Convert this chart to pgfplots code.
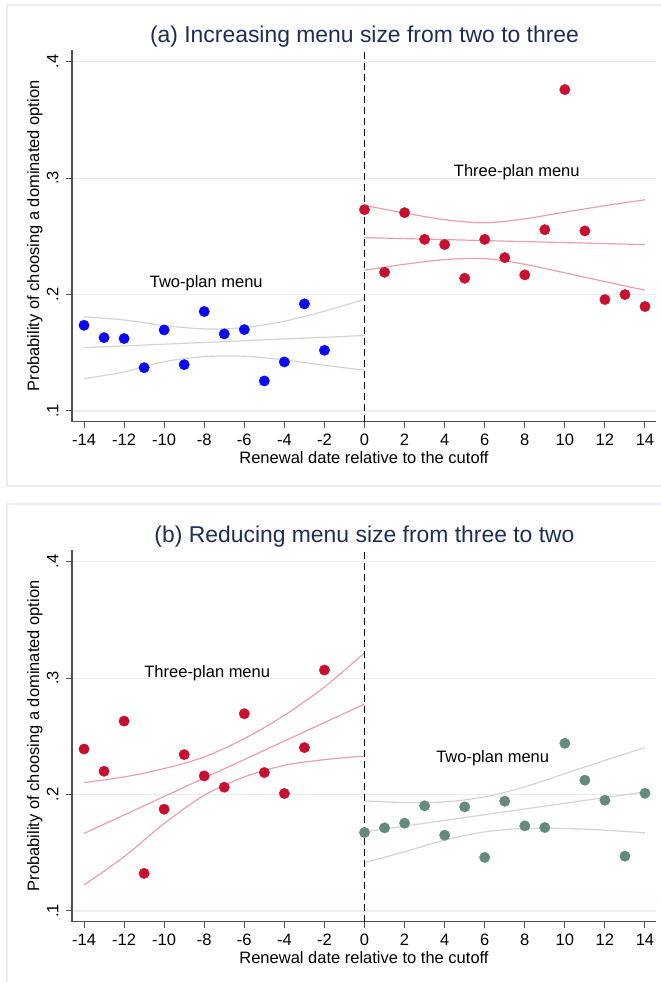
\documentclass[border=0pt]{standalone}
\usepackage{pgfplots}
\pgfplotsset{compat=1.18}
\usepackage{fontspec}
\setmainfont{Liberation Sans}
\definecolor{dotblue}{RGB}{10,10,245}
\definecolor{dotred}{RGB}{200,16,46}
\definecolor{dotgreen}{RGB}{102,138,122}
\definecolor{cipink}{RGB}{234,160,172}
\definecolor{cigray}{RGB}{212,212,212}
\definecolor{gridc}{RGB}{232,238,243}
\definecolor{framec}{RGB}{232,238,244}
\definecolor{axisc}{RGB}{80,80,80}
\definecolor{titlec}{RGB}{28,46,86}
\newcommand{\lbl}{\fontsize{16.5bp}{19bp}\selectfont}
\newcommand{\ttl}{\fontsize{22.9bp}{26bp}\selectfont}
\pgfplotsset{
  panel/.style={
    scale only axis, width=584bp, height=371.7bp,
    anchor=south west,
    xmin=-14.6, xmax=14.55, ymin=0.0908, ymax=0.41,
    axis lines=left,
    axis line style={-, draw=axisc, line width=1.1bp},
    tick align=outside, major tick length=6bp,
    tick style={draw=axisc, line width=1bp},
    xtick={-14,-12,...,14},
    xticklabels={-14,-12,-10,-8,-6,-4,-2,0,2,4,6,8,10,12,14},
    ytick={0.1,0.2,0.3,0.4},
    yticklabels={.1,.2,.3,.4},
    ymajorgrids, grid style={draw=gridc, line width=1.1bp},
    xticklabel style={font=\lbl, yshift=-3bp},
    yticklabel style={font=\lbl, rotate=90, anchor=south, yshift=4bp},
    xlabel={Renewal date relative to the cutoff},
    ylabel={Probability of choosing a dominated option},
    xlabel style={font=\lbl, at={(rel axis cs:0.5,0)}, anchor=center, yshift=-36.3bp},
    ylabel style={font=\lbl, at={(axis description cs:-0.0634,0.5)}, anchor=center},
    clip=false,
  },
  ci/.style={smooth, no markers, line width=1.2bp},
  dots/.style={only marks, mark=*, mark size=5.2bp},
}
\begin{document}
\begin{tikzpicture}
\path[use as bounding box] (0,0) rectangle (661bp,-982bp);
\draw[framec, line width=1.6bp] (7bp,-5bp) rectangle (690bp,-486bp);
\draw[framec, line width=1.6bp] (7bp,-504bp) rectangle (690bp,-1000bp);
\node[font=\ttl, text=titlec] at (364.5bp,-37bp) {(a) Increasing menu size from two to three};
\node[font=\ttl, text=titlec] at (364.5bp,-537bp) {(b) Reducing menu size from three to two};

% ---------- Panel (a) ----------
\begin{axis}[panel, at={(72bp,-421.7bp)}]
\addplot[ci, cigray] coordinates {(-14,0.1808) (-12,0.1782) (-10,0.1734) (-8,0.1705) (-6,0.1716) (-4,0.1771) (-2,0.1857) (0,0.1960)};
\addplot[ci, cigray] coordinates {(-14,0.1544) (0,0.1648)};
\addplot[ci, cigray] coordinates {(-14,0.1278) (-12,0.1335) (-10,0.1424) (-8,0.1467) (-6,0.1470) (-4,0.1438) (-2,0.1393) (0,0.1350)};
\addplot[ci, cipink] coordinates {(0,0.2766) (2,0.2700) (4,0.2643) (6,0.2616) (8,0.2650) (10,0.2708) (12,0.2763) (14,0.2814)};
\addplot[ci, cipink] coordinates {(0,0.2489) (14,0.2429)};
\addplot[ci, cipink] coordinates {(0,0.2209) (2,0.2260) (4,0.2300) (6,0.2308) (8,0.2260) (10,0.2186) (12,0.2111) (14,0.2037)};
\addplot[black, line width=1.1bp, dash pattern=on 7bp off 4bp] coordinates {(0,0.0908) (0,0.41)};
\addplot[dots, dotblue] coordinates {(-14,0.1736) (-13,0.1630) (-12,0.1622) (-11,0.1372) (-10,0.1696) (-9,0.1398) (-8,0.1854) (-7,0.1662) (-6,0.1699) (-5,0.1258) (-4,0.1421) (-3,0.1920) (-2,0.1521)};
\addplot[dots, dotred] coordinates {(0,0.2729) (1,0.2191) (2,0.2703) (3,0.2474) (4,0.2429) (5,0.2140) (6,0.2474) (7,0.2317) (8,0.2169) (9,0.2557) (10,0.3760) (11,0.2546) (12,0.1957) (13,0.2000) (14,0.1897)};
\node[font=\lbl] at (axis cs:-7.9,0.2098) {Two-plan menu};
\node[font=\lbl] at (axis cs:7.6,0.3051) {Three-plan menu};
\end{axis}

% ---------- Panel (b) ----------
\begin{axis}[panel, at={(72bp,-921.7bp)}]
\addplot[ci, cipink] coordinates {(-14,0.2103) (-12,0.2151) (-10,0.2223) (-8,0.2323) (-6,0.2480) (-4,0.2680) (-2,0.2923) (0,0.3217)};
\addplot[ci, cipink] coordinates {(-14,0.1666) (0,0.2777)};
\addplot[ci, cipink] coordinates {(-14,0.1223) (-12,0.1466) (-10,0.1751) (-8,0.1994) (-6,0.2151) (-4,0.2251) (-2,0.2300) (0,0.2331)};
\addplot[ci, cigray] coordinates {(0,0.1946) (2,0.1931) (4,0.1937) (6,0.1980) (8,0.2066) (10,0.2180) (12,0.2294) (14,0.2403)};
\addplot[ci, cigray] coordinates {(0,0.1680) (14,0.2023)};
\addplot[ci, cigray] coordinates {(0,0.1414) (2,0.1509) (4,0.1609) (6,0.1680) (8,0.1709) (10,0.1709) (12,0.1694) (14,0.1671)};
\addplot[black, line width=1.1bp, dash pattern=on 7bp off 4bp] coordinates {(0,0.0908) (0,0.41)};
\addplot[dots, dotred] coordinates {(-14,0.2391) (-13,0.2200) (-12,0.2631) (-11,0.1323) (-10,0.1874) (-9,0.2343) (-8,0.2160) (-7,0.2063) (-6,0.2694) (-5,0.2189) (-4,0.2009) (-3,0.2403) (-2,0.3069)};
\addplot[dots, dotgreen] coordinates {(0,0.1674) (1,0.1714) (2,0.1754) (3,0.1903) (4,0.1651) (5,0.1894) (6,0.1460) (7,0.1943) (8,0.1731) (9,0.1717) (10,0.2440) (11,0.2123) (12,0.1951) (13,0.1471) (14,0.2011)};
\node[font=\lbl] at (axis cs:-7.85,0.3038) {Three-plan menu};
\node[font=\lbl] at (axis cs:6.4,0.2314) {Two-plan menu};
\end{axis}
\end{tikzpicture}
\end{document}
